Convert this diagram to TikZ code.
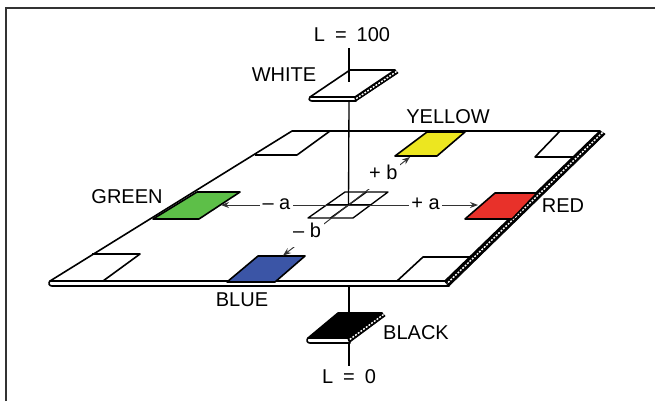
\documentclass[tikz,border=0pt]{standalone}
\usepackage{fontspec}
\setmainfont{Liberation Sans}
\usetikzlibrary{arrows.meta}
\definecolor{swyellow}{HTML}{ECE620}
\definecolor{swgreen}{HTML}{5DBF48}
\definecolor{swred}{HTML}{E8312A}
\definecolor{swblue}{HTML}{3B55A6}
\begin{document}
\begin{tikzpicture}[x=0.75pt,y=-0.75pt,
  edge/.style={line width=1.2pt, line join=round},
  axisline/.style={line width=1pt},
  guide/.style={line width=0.7pt, draw=black!80},
  tip/.style={-{Stealth[length=6pt,width=4.5pt]}},
  lbl/.style={font=\fontsize{15}{17}\selectfont, inner sep=1pt},
  sign/.style={lbl, fill=white, inner sep=2pt},
  sideface/.style={fill=black, draw=black, line width=0.6pt, line join=round},
  chain/.style={white, line width=1.1pt, dash pattern=on 1.4pt off 1.1pt}
]
\useasboundingbox (0,0) rectangle (655,401);

% outer frame (top and left rules)
\draw[line width=1.1pt, black!80] (6,401) -- (6,8) -- (655,8);

% ---------- the colour plane ----------
% front thickness strip
\draw[edge, fill=white] (50,281) -- (445,281) -- (449,286) -- (52,286)
  .. controls (49,286) and (48,283) .. cycle;
% right side face (hatched edge)
\draw[sideface] (600,131) -- (605,134) -- (449,286) -- (445,281) -- cycle;
\draw[chain] (602.5,132.5) -- (447,283.5);
% top face
\draw[edge, fill=white] (292,131) -- (600,131) -- (445,281) -- (50,281) -- cycle;

% corner squares
\draw[edge] (292,131) -- (330,131) -- (297,155) -- (255,155);
\draw[edge] (560,131) -- (535,157) -- (575,157);
\draw[edge] (92,254) -- (140,254) -- (103,281);
\draw[edge] (397,281) -- (423,257) -- (470,257);

% central 2x2 grid
\coordinate (c) at (348.5,205);
\draw[edge, line width=1pt] (345,192) -- (388,192) -- (353,218) -- (308,218) -- cycle;
\draw[edge, line width=1pt] (326.5,205) -- (370.5,205);
\draw[edge, line width=1pt] (366.5,192) -- (330.5,218);

% colour patches
\draw[edge, fill=swyellow] (427,132) -- (465,132) -- (437,156) -- (395,156) -- cycle;
\draw[edge, fill=swgreen] (197,192) -- (240,192) -- (199,219) -- (153,219) -- cycle;
\draw[edge, fill=swred] (495,193) -- (537,193) -- (512,219) -- (465,219) -- cycle;
\draw[edge, fill=swblue] (258,256) -- (305,256) -- (275,282) -- (227,282) -- cycle;

% arrow targets on the patches
\coordinate (ygt) at (410,157);
\coordinate (grt) at (221,205);
\coordinate (rdt) at (478,205);
\coordinate (blt) at (283,255.5);

% a and b axes
\draw[guide, tip] (c) -- node[sign, pos=0.565] (amin) {\strut– a} (grt);
\draw[guide, tip] (c) -- node[sign, pos=0.595] (aplus) {\strut+ a} (rdt);
\draw[guide, tip] (c) -- node[sign, pos=0.63, xshift=-3pt] (bplus) {\strut+ b} (ygt);
\draw[guide, tip] (c) -- node[sign, pos=0.55, xshift=-4pt] (bmin) {\strut– b} (blt);

% ---------- lightness axis ----------
\coordinate (ltop) at (349,48);
\coordinate (lbot) at (349,366);
\draw[axisline] (349,101) -- (c);
\draw[axisline] (349,286) -- (349,313);
\draw[axisline] (349,343) -- (lbot);

% white tile
\draw[edge, fill=white] (310,97) -- (355,97) -- (356,101) -- (312,101)
  .. controls (309,101) and (308,98) .. cycle;
\draw[sideface] (395,70) -- (398,73) -- (356,101) -- (355,97) -- cycle;
\draw[chain] (396.5,71.5) -- (355.5,99);
\draw[edge, fill=white] (350,70) -- (395,70) -- (355,97) -- (310,97) -- cycle;
\draw[axisline] (ltop) -- (349,82);

% black tile
\draw[edge, fill=white] (308,338) -- (348,338) -- (350,343) -- (310,343)
  .. controls (307,343) and (306,340) .. cycle;
\draw[sideface] (382,313) -- (385,316) -- (350,342) -- (348,338) -- cycle;
\draw[chain] (383.5,314.5) -- (349,340);
\draw[edge, fill=black] (338,313) -- (382,313) -- (348,338) -- (308,338) -- cycle;

% ---------- labels ----------
\node[lbl] (l100) at (352,35) {L\enspace=\enspace100};
\node[lbl] (l0) at (349,377) {L\enspace=\enspace0};
\node[lbl] (white) at (284,75) {WHITE};
\node[lbl] (black) at (416,333) {BLACK};
\node[lbl] (yellow) at (448,117) {YELLOW};
\node[lbl] (green) at (127,197) {GREEN};
\node[lbl] (red) at (563,206) {RED};
\node[lbl] (blue) at (242,300) {BLUE};
\end{tikzpicture}
\end{document}
